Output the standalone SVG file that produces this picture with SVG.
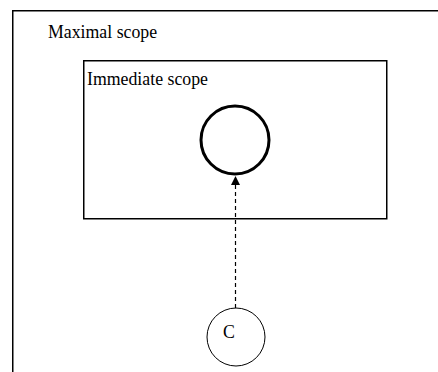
<svg xmlns="http://www.w3.org/2000/svg" width="438" height="372" viewBox="0 0 438 372">
<style>
text{font-family:"Liberation Serif","Times New Roman",serif;font-size:17.8px;fill:#000}
.box{fill:none;stroke:#000;stroke-width:1.5}
</style>
<defs>
<marker id="ah" viewBox="0 0 10 10" refX="10" refY="5" markerWidth="9" markerHeight="9" markerUnits="userSpaceOnUse" orient="auto">
<path d="M0,0 L10,5 L0,10 z" fill="#000"/>
</marker>
</defs>
<rect width="438" height="372" fill="#fff"/>
<g id="maximal">
<path class="box" d="M12.75,380 V10.75 H440"/>
<text x="48" y="38">Maximal scope</text>
</g>
<g id="immediate">
<rect class="box" x="83.75" y="60.75" width="303" height="158"/>
<text x="87" y="85">Immediate scope</text>
</g>
<g id="target">
<circle cx="235" cy="140" r="34" fill="none" stroke="#000" stroke-width="3"/>
</g>
<g id="c">
<circle cx="236" cy="337" r="29" fill="none" stroke="#000" stroke-width="1"/>
<text x="229" y="338" text-anchor="middle">C</text>
</g>
<g id="connectors">
<line x1="235.5" y1="308" x2="235.5" y2="176" stroke="#000" stroke-width="1.2" stroke-dasharray="4,3" marker-end="url(#ah)"/>
</g>
</svg>
